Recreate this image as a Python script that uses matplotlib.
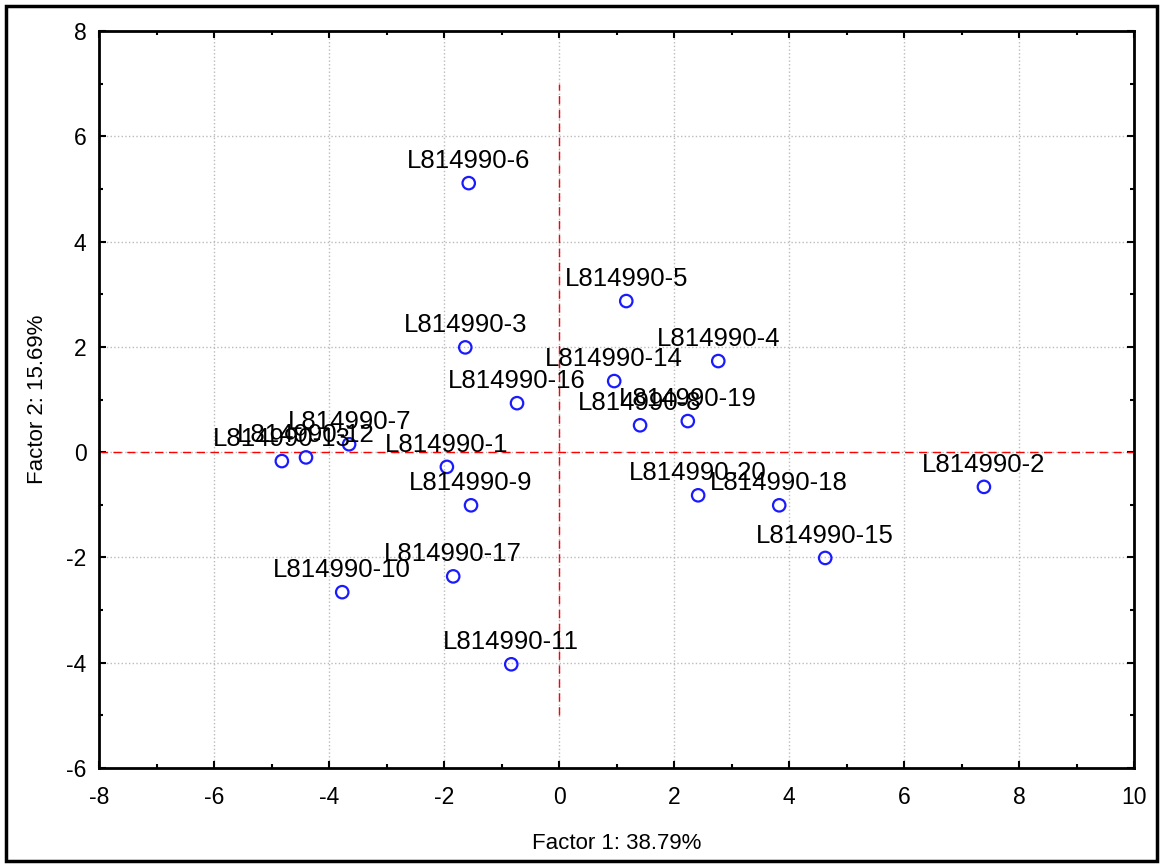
import matplotlib
matplotlib.use("Agg")
import matplotlib.pyplot as plt
from matplotlib.patches import Rectangle
from matplotlib.ticker import MultipleLocator

plt.rcParams['font.family'] = ['Liberation Sans', 'DejaVu Sans']
plt.rcParams['axes.unicode_minus'] = False

# Sample scores on the first two factors
labels = ["L814990-1", "L814990-2", "L814990-3", "L814990-4", "L814990-5",
          "L814990-6", "L814990-7", "L814990-8", "L814990-9", "L814990-10",
          "L814990-11", "L814990-12", "L814990-13", "L814990-14", "L814990-15",
          "L814990-16", "L814990-17", "L814990-18", "L814990-19", "L814990-20"]
factor1 = [-1.95, 7.39, -1.63, 2.77, 1.17, -1.57, -3.65, 1.41, -1.53, -3.77,
           -0.83, -4.40, -4.82, 0.96, 4.63, -0.73, -1.84, 3.83, 2.24, 2.42]
factor2 = [-0.28, -0.66, 1.99, 1.73, 2.87, 5.11, 0.15, 0.51, -1.01, -2.66,
           -4.03, -0.10, -0.17, 1.35, -2.01, 0.93, -2.36, -1.01, 0.59, -0.82]

fig = plt.figure(figsize=(11.64, 8.67), dpi=100)
ax = fig.add_axes([99 / 1164, 1 - 768 / 867, 1035 / 1164, 737 / 867])

# frame around the whole figure
fig.patches.append(Rectangle((6 / 1164, 6 / 867), 1151 / 1164, 855 / 867,
                             transform=fig.transFigure, fill=False,
                             edgecolor='black', linewidth=2.5))

ax.axhline(0, color='red', linestyle=(0, (6, 4)), linewidth=1)
ax.plot([0, 0], [-5, 7], color='red', linestyle=(0, (6, 4)), linewidth=1)

ax.scatter(factor1, factor2, s=80, facecolors='none', edgecolors='#1a1aff',
           linewidths=1.6, zorder=3)
for name, x, y in zip(labels, factor1, factor2):
    ax.annotate(name, (x, y), xytext=(0, 11), textcoords='offset points',
                ha='center', va='baseline', fontsize=18.5)

ax.set_xlim(-8, 10)
ax.set_ylim(-6, 8)
ax.xaxis.set_major_locator(MultipleLocator(2))
ax.yaxis.set_major_locator(MultipleLocator(2))
ax.xaxis.set_minor_locator(MultipleLocator(1))
ax.yaxis.set_minor_locator(MultipleLocator(1))
ax.tick_params(which='both', direction='in', top=True, right=True, width=1.5)
ax.tick_params(which='major', length=5, labelsize=16.5)
ax.tick_params(axis='x', which='major', pad=13)
ax.tick_params(axis='y', which='major', pad=9)
ax.tick_params(which='minor', length=3)
ax.grid(True, which='major', color='#bbbbbb', linestyle=':', linewidth=1)
ax.set_axisbelow(True)
for s in ax.spines.values():
    s.set_linewidth(2)

ax.set_xlabel("Factor 1: 38.79%", fontsize=16, labelpad=17)
ax.set_ylabel("Factor 2: 15.69%", fontsize=16, labelpad=13)

fig.savefig("out.png", dpi=100)
